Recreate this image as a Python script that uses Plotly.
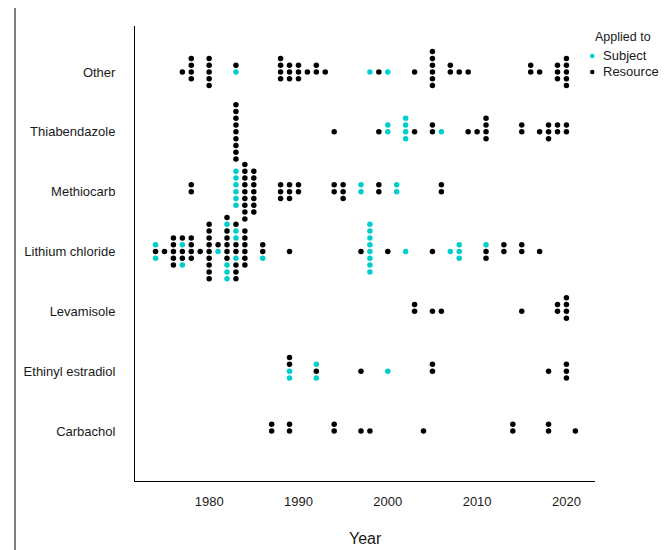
import plotly.graph_objects as go

categories = ["Carbachol", "Ethinyl estradiol", "Levamisole", "Lithium chloride",
              "Methiocarb", "Thiabendazole", "Other"]

# Each stack string lists dots bottom-to-top: S = Subject, R = Resource
other_years = [1977, 1978, 1980, 1983, 1988, 1989, 1990, 1991, 1992, 1993, 1998, 1999,
               2000, 2003, 2005, 2007, 2008, 2009, 2016, 2017, 2019, 2020]
other_stacks = ["R", "RRRR", "RRRRR", "SR", "RRRR", "RRR", "RRR", "R", "RR", "R", "S", "R",
                "S", "R", "RRRRRR", "RR", "R", "R", "RR", "R", "RRR", "RRRRR"]

thia_years = [1983, 1994, 1999, 2000, 2002, 2003, 2005, 2006, 2009, 2010, 2011, 2015,
              2017, 2018, 2019, 2020]
thia_stacks = ["RRRRRRRRR", "R", "R", "SS", "SSSS", "R", "RR", "S", "R", "R", "RRRR", "RR",
               "R", "RRR", "RR", "RR"]

meth_years = [1978, 1983, 1984, 1985, 1988, 1989, 1990, 1994, 1995, 1997, 1999, 2001, 2006]
meth_stacks = ["RR", "SSSSSS", "RRRRRRRRR", "RRRRRRR", "RRR", "RRR", "RR", "RR", "RRR",
               "SS", "RR", "SS", "RR"]

lith_years = [1974, 1975, 1976, 1977, 1978, 1979, 1980, 1981, 1982, 1983, 1984, 1986,
              1989, 1997, 1998, 2000, 2002, 2005, 2007, 2008, 2011, 2013, 2015, 2017]
lith_stacks = ["SRS", "R", "RRRRR", "SRRSR", "RRRR", "R", "RRRRRRRRR", "SR", "SSSRRRRRSR",
               "RRRSRRSSR", "RRRRRR", "SRR", "R", "R", "SSSSSSSS", "R", "S", "R", "S",
               "SSS", "RRS", "RR", "RR", "R"]

leva_years = [2003, 2005, 2006, 2015, 2019, 2020]
leva_stacks = ["RR", "R", "R", "R", "RR", "RRRR"]

ethi_years = [1989, 1992, 1997, 2000, 2005, 2018, 2020]
ethi_stacks = ["SSRR", "SRS", "R", "S", "RR", "R", "RRR"]

carb_years = [1987, 1989, 1994, 1997, 1998, 2004, 2014, 2018, 2021]
carb_stacks = ["RR", "RR", "RR", "R", "R", "R", "RR", "RR", "R"]

x_ticks = [1980, 1990, 2000, 2010, 2020]

rows = [
    (carb_years, carb_stacks),
    (ethi_years, ethi_stacks),
    (leva_years, leva_stacks),
    (lith_years, lith_stacks),
    (meth_years, meth_stacks),
    (thia_years, thia_stacks),
    (other_years, other_stacks),
]

STEP = 0.1137  # vertical spacing between stacked dots (row units)
COL_S = "#00CDCD"
COL_R = "#000000"

sx, sy, rx, ry = [], [], [], []
for idx, (years, stacks) in enumerate(rows):
    for yr, st in zip(years, stacks):
        n = len(st)
        lower = -((n - 1) // 2)
        for i, ch in enumerate(st):
            yy = idx + (lower + i) * STEP
            if ch == "S":
                sx.append(yr); sy.append(yy)
            else:
                rx.append(yr); ry.append(yy)

fig = go.Figure()
fig.add_trace(go.Scatter(x=rx, y=ry, mode="markers", name="Resource",
                         marker=dict(color=COL_R, size=5.5, line=dict(width=0)),
                         showlegend=False, hoverinfo="x+y"))
fig.add_trace(go.Scatter(x=sx, y=sy, mode="markers", name="Subject",
                         marker=dict(color=COL_S, size=5.5, line=dict(width=0)),
                         showlegend=False, hoverinfo="x+y"))

FONT = "Liberation Sans, Arial, sans-serif"

OFF = 8  # page body margin offset
W, H = 670 - OFF, 550 - OFF
L, T = 135 - OFF, 26 - OFF
R = W - (595 - OFF)
B = H - (481 - OFF)
pw, ph = W - L - R, H - T - B

def px_x(px):
    return (px - OFF - L) / pw

def px_y(py):
    return (H - B - (py - OFF)) / ph

fig.update_layout(
    width=W, height=H,
    margin=dict(l=L, r=R, t=T, b=B, pad=0),
    paper_bgcolor="white", plot_bgcolor="white",
    font=dict(family=FONT, size=13, color="#1a1a1a"),
    xaxis=dict(range=[1971.7, 2023.2], tickvals=x_ticks,
               ticktext=[str(v) for v in x_ticks],
               showgrid=False, zeroline=False, showline=True, linecolor="#000",
               linewidth=1, ticks="", ticklabelstandoff=8,
               tickfont=dict(size=13, family=FONT)),
    yaxis=dict(range=[-0.836, 6.769], tickvals=list(range(len(categories))),
               ticktext=categories, showgrid=False, zeroline=False,
               showline=True, linecolor="#000", linewidth=1, ticks="",
               ticklabelstandoff=16, tickfont=dict(size=13, family=FONT)),
    showlegend=False,
)

# Axis title
fig.add_annotation(text="Year", x=px_x(365), y=px_y(549), xref="paper", yref="paper",
                   showarrow=False, font=dict(size=16, family=FONT, color="#1a1a1a"),
                   xanchor="center", yanchor="bottom")

# Manual legend
fig.add_annotation(text="Applied to", x=px_x(593), y=px_y(37), xref="paper", yref="paper",
                   showarrow=False, xanchor="left", yanchor="middle",
                   font=dict(size=12.5, family=FONT, color="#1a1a1a"))
for label, col, py in [("Subject", COL_S, 56), ("Resource", COL_R, 72)]:
    fig.add_shape(type="circle", xref="paper", yref="paper",
                  x0=px_x(590), x1=px_x(594.5), y0=px_y(py + 2.25), y1=px_y(py - 2.25),
                  fillcolor=col, line=dict(width=0))
    fig.add_annotation(text=label, x=px_x(601), y=px_y(py), xref="paper", yref="paper",
                       showarrow=False, xanchor="left", yanchor="middle",
                       font=dict(size=13, family=FONT, color="#1a1a1a"))

# Left frame line of the original image
fig.add_shape(type="line", xref="paper", yref="paper",
              x0=px_x(15), x1=px_x(15), y0=px_y(550), y1=px_y(OFF),
              line=dict(color="#000", width=1))

fig.write_html("out.html")
